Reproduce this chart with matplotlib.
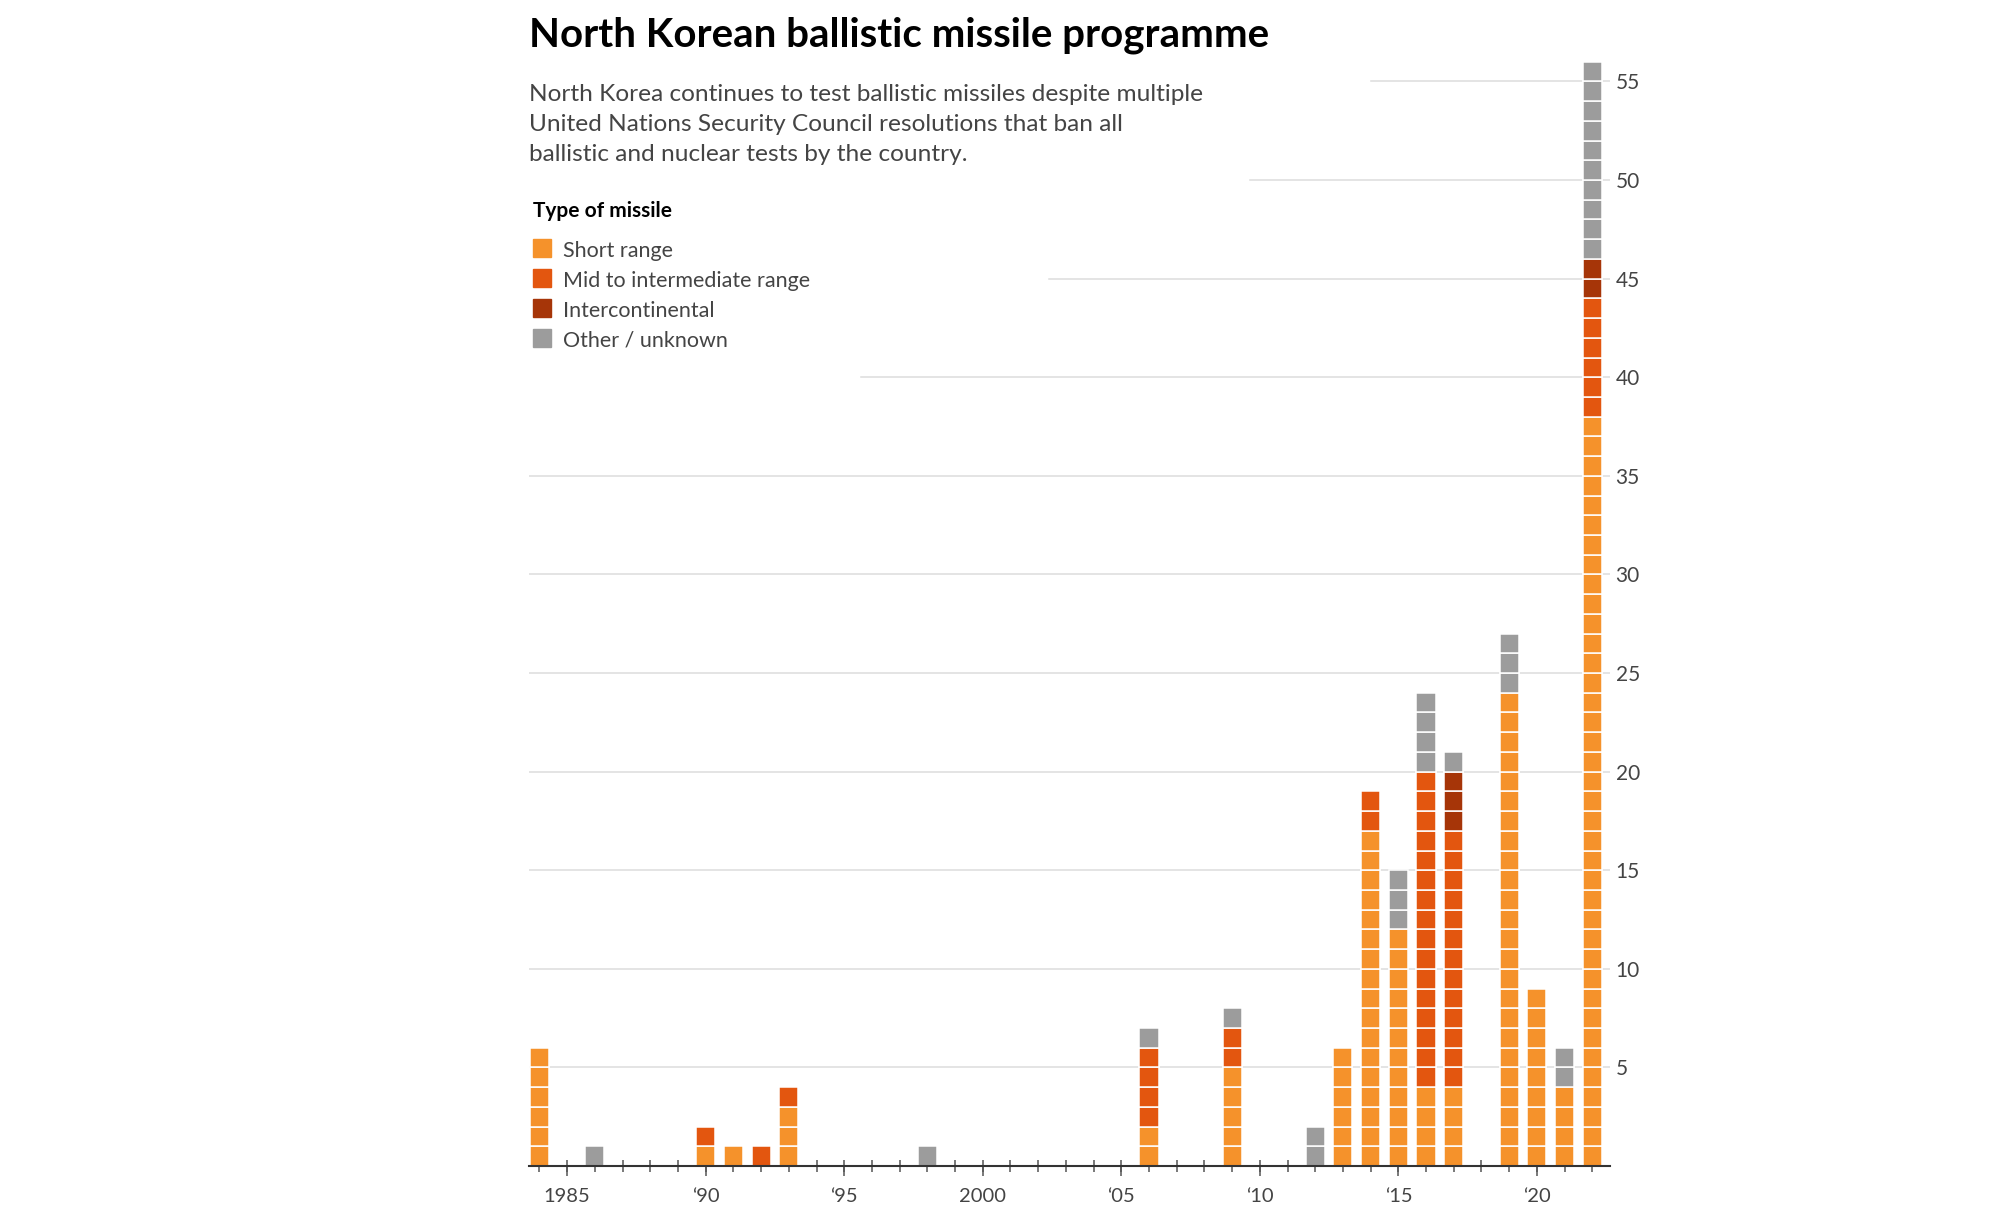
import numpy as np
import matplotlib.pyplot as plt
from matplotlib.patches import Rectangle
from matplotlib.ticker import MultipleLocator, FixedLocator

plt.rcParams['font.family'] = ['Lato', 'DejaVu Sans']

# --------------------------------------------------------
# Data: missile launches per year by type
# --------------------------------------------------------
years = [1984, 1986, 1990, 1991, 1992, 1993, 1998, 2006, 2009, 2012,
         2013, 2014, 2015, 2016, 2017, 2019, 2020, 2021, 2022]
short_range = [6, 0, 1, 1, 0, 3, 0, 2, 5, 0, 6, 17, 12, 4, 4, 24, 9, 4, 38]
mid_range = [0, 0, 1, 0, 1, 1, 0, 4, 2, 0, 0, 2, 0, 16, 13, 0, 0, 0, 6]
intercontinental = [0, 0, 0, 0, 0, 0, 0, 0, 0, 0, 0, 0, 0, 0, 3, 0, 0, 0, 2]
other_unknown = [0, 1, 0, 0, 0, 0, 1, 1, 1, 2, 0, 0, 3, 4, 1, 3, 0, 2, 10]

series_names = ["Short range", "Mid to intermediate range",
                "Intercontinental", "Other / unknown"]
series_values = [short_range, mid_range, intercontinental, other_unknown]
colors = ["#F5922B", "#E3560F", "#A63508", "#9C9C9C"]

year_ticks = [1985, 1990, 1995, 2000, 2005, 2010, 2015, 2020]
year_labels = ["1985", "\u201890", "\u201895", "2000", "\u201805", "\u201810", "\u201815", "\u201820"]
y_ticks = [5, 10, 15, 20, 25, 30, 35, 40, 45, 50, 55]

# --------------------------------------------------------
# Figure
# --------------------------------------------------------
fig = plt.figure(figsize=(20, 12.22), dpi=100)
ax = fig.add_axes([0.2646, 0.0458, 0.5404, 0.9037])

# one block per missile, stacked by type
base = np.zeros(len(years))
for vals, col in zip(series_values, colors):
    xs, bottoms = [], []
    for i, yr in enumerate(years):
        for k in range(vals[i]):
            xs.append(yr)
            bottoms.append(base[i] + k)
    ax.bar(xs, 1, bottom=bottoms, width=0.69, color=col,
           edgecolor="white", linewidth=1.1, zorder=3)
    base += np.array(vals)

# gridlines (shortened near the top so they avoid the text block)
grid_start = {40: 0.307, 45: 0.4805, 50: 0.667, 55: 0.779}
for v in y_ticks:
    ax.axhline(v, xmin=grid_start.get(v, 0), xmax=1, color="#dddddd",
               linewidth=1.1, zorder=1)

ax.set_xlim(1983.63, 2022.64)
ax.set_ylim(0, 56)

for side in ["top", "left", "right"]:
    ax.spines[side].set_visible(False)
ax.spines["bottom"].set_color("#333333")
ax.spines["bottom"].set_linewidth(1.5)
ax.spines["bottom"].set_zorder(4)

ax.xaxis.set_major_locator(FixedLocator(year_ticks))
ax.xaxis.set_minor_locator(MultipleLocator(1))
ax.xaxis.remove_overlapping_locs = False
ax.set_xticklabels(year_labels)
ax.tick_params(axis="x", which="major", direction="out", length=7.5,
               width=1.1, color="#555555", labelsize=14.5, labelcolor="#444444", pad=8)
ax.tick_params(axis="x", which="minor", direction="inout", length=8,
               width=1.1, color="#555555")

ax.yaxis.tick_right()
ax.set_yticks(y_ticks)
ax.tick_params(axis="y", length=0, labelsize=15, labelcolor="#444444", pad=4)

# --------------------------------------------------------
# Title, subtitle, legend
# --------------------------------------------------------
fig.text(0.2645, 0.9618, "North Korean ballistic missile programme",
         fontsize=29, fontweight="bold", color="black", va="baseline")
subtitle = ["North Korea continues to test ballistic missiles despite multiple",
            "United Nations Security Council resolutions that ban all",
            "ballistic and nuclear tests by the country."]
for i, line in enumerate(subtitle):
    fig.text(0.2645, 1 - (100.7 + 30.2 * i) / 1222, line, fontsize=17.6,
             fontweight="normal", color="#444444", va="baseline")

fig.text(0.2664, 1 - 217.3 / 1222, "Type of missile", fontsize=15,
         fontweight="bold", color="black", va="baseline")
for i, (name, col) in enumerate(zip(series_names, colors)):
    yb = 257.3 + 29.8 * i
    fig.patches.append(Rectangle((532.8 / 2000, 1 - yb / 1222), 18.5 / 2000, 18 / 1222,
                                 transform=fig.transFigure, color=col))
    fig.text(563.4 / 2000, 1 - yb / 1222, name, fontsize=15.5,
             fontweight="normal", color="#444444", va="baseline")

plt.savefig("out.png", dpi=100)
